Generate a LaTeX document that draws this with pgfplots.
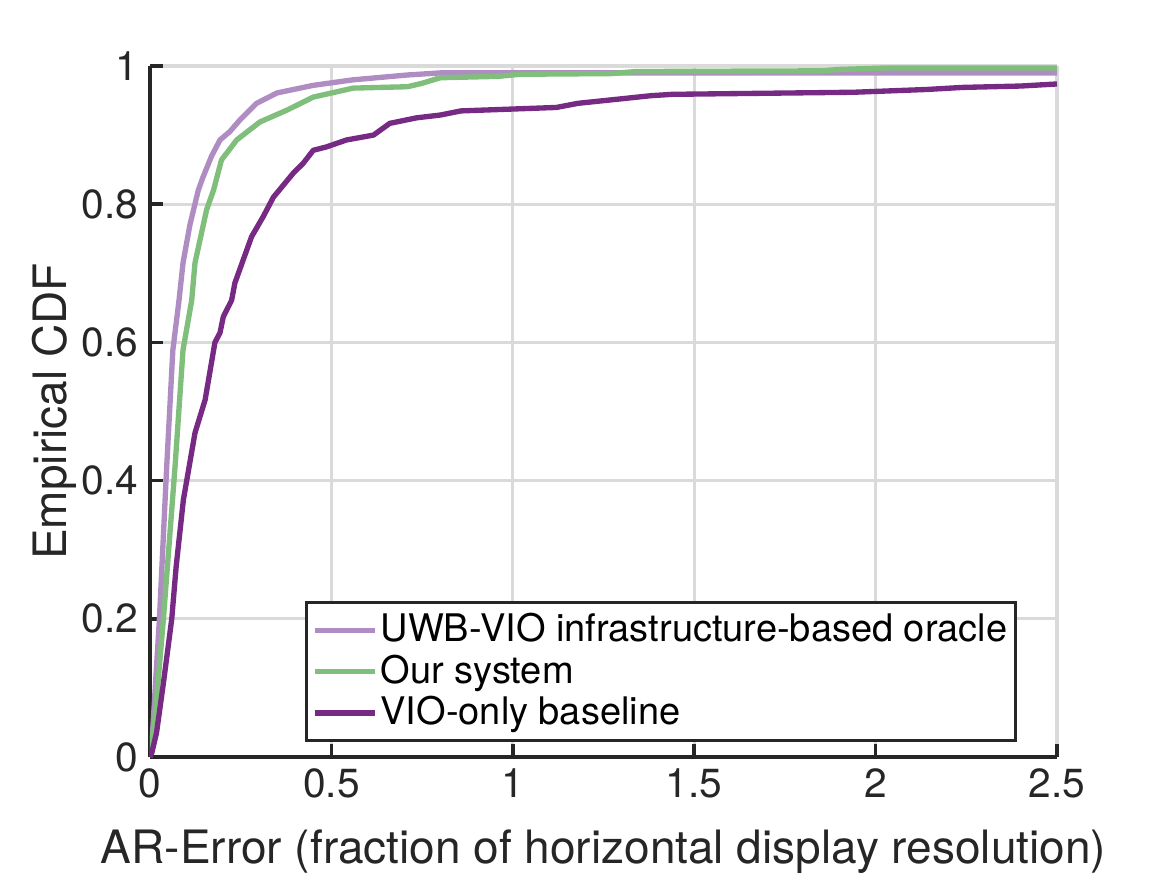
\documentclass[border=0pt]{standalone}
\usepackage{fontspec}
\setmainfont{TeX Gyre Heros}
\usepackage{pgfplots}
\pgfplotsset{compat=1.18}
\definecolor{oracleC}{HTML}{AF8DC3}
\definecolor{oursC}{HTML}{7FBF7B}
\definecolor{vioC}{HTML}{762A83}
\definecolor{axC}{HTML}{262626}
\definecolor{gridC}{HTML}{DADADA}

\begin{document}
\begin{tikzpicture}
\path (-45pt,-35.4pt) rectangle (305.1pt,227.1pt);
\begin{axis}[
 scale only axis,width=272.1pt,height=207.3pt,
 at={(0,0)},anchor=south west,
 xmin=0,xmax=2.5,ymin=0,ymax=1,
 xtick={0,0.5,...,2.5},ytick={0,0.2,...,1},
 xticklabels={0,0.5,1,1.5,2,2.5},yticklabels={0,0.2,0.4,0.6,0.8,1},
 axis x line=bottom,axis y line=left,
 axis line style={-,line width=1.1pt,draw=axC},
 tick align=inside,major tick length=4pt,
 tick style={line width=1.1pt,draw=axC},
 grid=major,major grid style={line width=1pt,draw=gridC},
 tick label style={font=\fontsize{12.2}{14}\selectfont,text=axC},
 /pgf/number format/assume math mode=true,
 xlabel={AR-Error (fraction of horizontal display resolution)},
 ylabel={Empirical CDF},
 every axis x label/.style={at={(rel axis cs:0.5,0)},yshift=-31.8pt,anchor=base,
   font=\fontsize{13.8}{16}\selectfont,text=axC},
 every axis y label/.style={at={(rel axis cs:0,0.5)},xshift=-24.9pt,rotate=90,anchor=base,
   font=\fontsize{13.8}{16}\selectfont,text=axC},
 legend style={at={(rel axis cs:0.956,0.022)},anchor=south east,
   font=\fontsize{11.4}{13.8}\selectfont,draw=axC,line width=0.9pt,fill=white,
   inner xsep=1.5pt,inner ysep=2pt,row sep=0pt,
   nodes={inner xsep=1pt,inner ysep=1.2pt}},
 legend cell align=left,
 legend image code/.code={\draw[#1] (0pt,0pt) -- (18pt,0pt);},
 every axis plot/.append style={line width=1.6pt,line join=round},
]
\addplot[oracleC] coordinates {
 (0,0) (0.007,0.035) (0.026,0.2) (0.046,0.42) (0.063,0.589) (0.08,0.661)
 (0.091,0.715) (0.11,0.77) (0.133,0.82) (0.146,0.839) (0.17,0.87) (0.193,0.893)
 (0.22,0.905) (0.248,0.922) (0.294,0.946) (0.35,0.961) (0.45,0.972) (0.56,0.98)
 (0.71,0.987) (0.8,0.99) (2.5,0.99)};
\addlegendentry{UWB-VIO infrastructure-based oracle}
\addplot[oursC] coordinates {
 (0,0) (0.014,0.058) (0.037,0.2) (0.069,0.42) (0.091,0.589) (0.115,0.661)
 (0.124,0.715) (0.156,0.792) (0.175,0.82) (0.197,0.864) (0.239,0.893)
 (0.303,0.919) (0.377,0.936) (0.45,0.955) (0.56,0.968) (0.71,0.97) (0.75,0.975)
 (0.8,0.983) (0.96,0.985) (1.02,0.988) (1.27,0.989) (1.34,0.992) (1.85,0.993)
 (1.9,0.995) (2.02,0.997) (2.5,0.997)};
\addlegendentry{Our system}
\addplot[vioC] coordinates {
 (0,0) (0.005,0.006) (0.018,0.035) (0.037,0.107) (0.06,0.2) (0.072,0.275)
 (0.092,0.372) (0.124,0.469) (0.152,0.517) (0.179,0.6) (0.193,0.614)
 (0.202,0.637) (0.225,0.661) (0.234,0.686) (0.28,0.753) (0.312,0.782)
 (0.34,0.81) (0.395,0.845) (0.422,0.859) (0.45,0.878) (0.487,0.883)
 (0.542,0.893) (0.616,0.9) (0.661,0.917) (0.735,0.925) (0.8,0.929)
 (0.857,0.935) (1.12,0.94) (1.18,0.946) (1.29,0.952) (1.38,0.957)
 (1.44,0.959) (1.94,0.962) (2.14,0.966) (2.24,0.969) (2.4,0.971) (2.5,0.974)};
\addlegendentry{VIO-only baseline}
\end{axis}
\end{tikzpicture}
\end{document}
